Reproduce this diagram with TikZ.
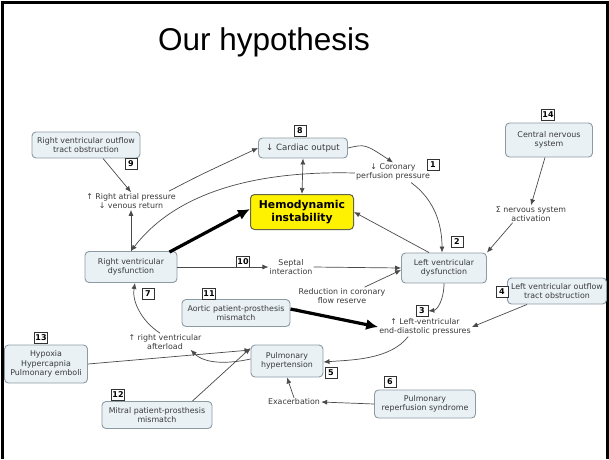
\documentclass[tikz,border=0pt]{standalone}
\usepackage{fontspec}
\setmainfont{DejaVu Sans}
\newfontfamily\titlefont{Liberation Sans}
\usetikzlibrary{arrows.meta}
\definecolor{boxfill}{HTML}{E9F1F5}
\definecolor{boxline}{HTML}{8C9AA3}
\definecolor{txt}{HTML}{3A3A3A}
\definecolor{lnk}{HTML}{4A4A4A}
\tikzset{
  cbox/.style={draw=boxline, fill=boxfill, rounded corners=4pt, line width=0.9pt,
    align=center, font=\fontsize{7.9}{9.3}\selectfont, text=txt, inner sep=2pt},
  lbl/.style={align=center, font=\fontsize{7.9}{9.2}\selectfont, text=txt, inner sep=1pt},
  numbox/.style={draw=black!80, fill=white, line width=0.7pt, font=\bfseries\fontsize{8}{9}\selectfont,
    inner sep=1.2pt, minimum width=12pt, minimum height=11pt},
  hemo/.style={draw=black!55!yellow!70!black, fill=yellow, rounded corners=4pt, line width=1pt,
    align=center, font=\bfseries\fontsize{10.8}{12.7}\selectfont, minimum width=103pt, minimum height=35pt, inner sep=1pt},
  arr/.style={draw=lnk, line width=0.7pt, -{Latex[length=6pt,width=5pt]}},
  plain/.style={draw=lnk, line width=0.7pt},
  thick arr/.style={draw=black, line width=3.2pt, -{Latex[length=12pt,width=11pt]}},
}
\begin{document}
\begin{tikzpicture}[x=1pt,y=-1pt]
\useasboundingbox (0,0) rectangle (609,459);
\fill[white] (0,0) rectangle (609,459);
\draw[line width=3pt,black] (2,459) -- (2,2) -- (607,2) -- (607,459);
\node (title) at (264,42) {\titlefont\fontsize{31.5}{36}\selectfont Our hypothesis};

% boxes
\node[cbox, minimum width=108pt, minimum height=26pt] (rvot) at (86,145) {Right ventricular outflow\\tract obstruction};
\node[numbox] (n9) at (131,164) {9};
\node[lbl] (rap) at (131,201) {\textuparrow\ Right atrial pressure\\\textdownarrow\ venous return};
\node[cbox, minimum width=89pt, minimum height=20pt, font=\fontsize{8.6}{10}\selectfont] (co) at (303,148) {↓ Cardiac output};
\node[numbox] (n8) at (300,131) {8};
\node[hemo] (hemo) at (302,212) {Hemodynamic\\instability};
\node[lbl] (cpp) at (393,172) {↓ Coronary\\perfusion pressure};
\node[numbox] (n1) at (433,165) {1};
\node[cbox, minimum width=87pt, minimum height=34pt] (cns) at (549,140) {Central nervous\\system};
\node[numbox] (n14) at (548,115) {14};
\node[lbl] (sna) at (531,214) {Σ nervous system\\activation};
\node[cbox, minimum width=92pt, minimum height=31pt] (rvd) at (131,267) {Right ventricular\\dysfunction};
\node[numbox] (n7) at (148,294) {7};
\node[cbox, minimum width=85pt, minimum height=30pt] (lvd) at (444,268) {Left ventricular\\dysfunction};
\node[numbox] (n2) at (457,242) {2};
\node[lbl] (sept) at (291,267) {Septal\\interaction};
\node[numbox] (n10) at (243,262) {10};
\node[lbl] (rcfr) at (342,296) {Reduction in coronary\\flow reserve};
\node[cbox, minimum width=108pt, minimum height=27pt] (aort) at (236,313) {Aortic patient-prosthesis\\mismatch};
\node[numbox] (n11) at (209,294) {11};
\node[lbl] (lvedp) at (425,327) {↑ Left-ventricular\\end-diastolic pressures};
\node[numbox] (n3) at (422,311) {3};
\node[cbox, minimum width=99pt, minimum height=26pt] (lvot) at (557,291) {Left ventricular outflow\\tract obstruction};
\node[numbox] (n4) at (502,292) {4};
\node[cbox, minimum width=72pt, minimum height=32pt] (ph) at (287,361) {Pulmonary\\hypertension};
\node[numbox] (n5) at (331,373) {5};
\node[lbl] (rva) at (165,342) {↑ right ventricular\\afterload};
\node[cbox, minimum width=83pt, minimum height=38pt] (hyp) at (46,364) {Hypoxia\\Hypercapnia\\Pulmonary emboli};
\node[numbox] (n13) at (41,338) {13};
\node[cbox, minimum width=110pt, minimum height=27pt] (mit) at (157,415) {Mitral patient-prosthesis\\mismatch};
\node[numbox] (n12) at (118,395) {12};
\node[lbl] (exa) at (294,402) {Exacerbation};
\node[cbox, minimum width=101pt, minimum height=28pt] (prs) at (425,404) {Pulmonary\\reperfusion syndrome};
\node[numbox] (n6) at (390,382) {6};

% connectors
\draw[arr] (rvot.south) ++(17,0) coordinate (a1) -- (rap.north);
\draw[arr] (rap.north east) ++(-8,-1) coordinate (a2) .. controls (200,175) .. (co.west);
\draw[arr] (rvd.north) -- (rap.south);
\draw[arr] (cpp.west) ++(0,1) coordinate (a3) .. controls (240,170) and (170,200) .. (rvd.north) ;
\draw[arr] (co.east) .. controls (365,144) .. (cpp.north);
\draw[arr, {Latex[length=6pt,width=5pt]}-{Latex[length=6pt,width=5pt]}] (co.south) -- (hemo.north);
\draw[arr] (cpp.south east) ++(-20,1) coordinate (a4) .. controls (435,200) and (442,225) .. ([xshift=-2pt]lvd.north);
\draw[arr] (lvd.north west) ++(28,0) coordinate (a5) -- (hemo.east);
\draw[arr] (cns.south) ++(-4,0) coordinate (a6) -- (sna.north);
\draw[arr] (sna.south west) ++(18,0) coordinate (a7) -- (lvd.north east);
\draw[thick arr] (rvd.north east) ++(-8,1) coordinate (a8) -- ([yshift=3pt]hemo.west);
\draw[arr] (rvd.east) -- (sept.west);
\draw[arr] (sept.east) -- (lvd.west);
\draw[arr] (rcfr.north east) ++(-22,0) coordinate (a9) -- ([yshift=-2pt]lvd.west);
\draw[plain] ([yshift=-11pt]aort.north east) ++(1,0) -- +(6,-1.5);
\draw[thick arr] ([yshift=4pt]aort.east) -- (lvedp.west);
\draw[arr] (lvd.south) .. controls (444,300) and (437,310) .. (n3.east);
\draw[arr] (lvot.south west) ++(20,0) coordinate (a10) -- (lvedp.east);
\draw[arr] (lvedp.south west) ++(30,0) coordinate (a11) .. controls (390,360) and (350,360) .. ([yshift=-1pt]ph.east);
\draw[arr] ([yshift=2pt]ph.west) .. controls (228,364) and (205,364) .. ([xshift=-12pt,yshift=1pt]rva.south east);
\draw[arr] (rva.north) ++(-5,0) coordinate (a12) .. controls (140,320) and (132,300) .. ([xshift=4pt]rvd.south);
\draw[arr] (hyp.east) -- ([yshift=11pt]ph.west);
\draw[arr] ([xshift=-20pt]mit.north east) -- ([yshift=13pt]ph.west);
\draw[arr] (prs.west) -- (exa.east);
\draw[arr] (exa.north) -- (ph.south);
\end{tikzpicture}
\end{document}
